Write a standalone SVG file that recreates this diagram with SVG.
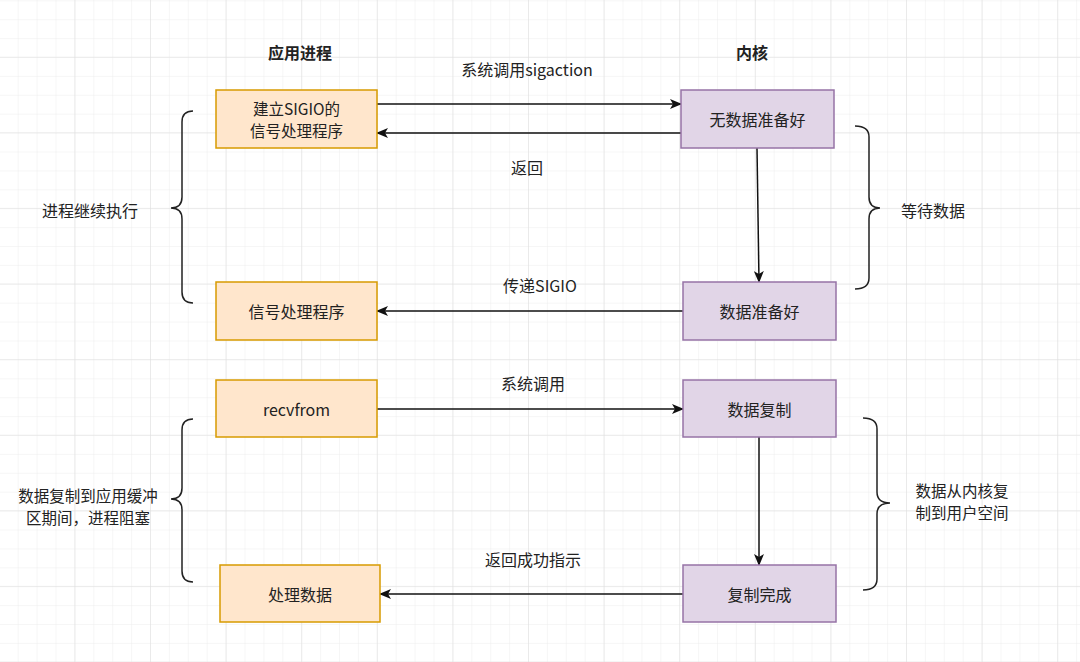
<svg xmlns="http://www.w3.org/2000/svg" width="1080" height="662" viewBox="0 0 1080 662">
<defs>
<pattern id="minor" patternUnits="userSpaceOnUse" x="17.7" y="0.3" width="18.9" height="18.9">
<path d="M0,0 H18.9 M0,0 V18.9" fill="none" stroke="#ededed" stroke-width="1"/>
</pattern>
<pattern id="major" patternUnits="userSpaceOnUse" x="74.4" y="56.7" width="75.6" height="75.6">
<path d="M0,0 H75.6 M0,0 V75.6" fill="none" stroke="#dedede" stroke-width="1"/>
</pattern>
<marker id="arr" viewBox="0 0 12 10" refX="11" refY="5" markerWidth="12" markerHeight="10" markerUnits="userSpaceOnUse" orient="auto">
<path d="M0,0 L12,5 L0,10 L3,5 Z" fill="#111"/>
</marker>
<style>
.t{font-family:"Noto Sans CJK SC","Liberation Sans",sans-serif;font-size:16px;fill:#222;text-anchor:middle;dominant-baseline:central}
.m{font-size:15.5px}
.h{font-weight:bold}
.app{fill:#ffe6cc;stroke:#d79b00;stroke-width:1.5}
.ker{fill:#e1d5e7;stroke:#9673a6;stroke-width:1.5}
.ln{fill:none;stroke:#111;stroke-width:1.5;marker-end:url(#arr)}
.br{fill:none;stroke:#222;stroke-width:1.5}
</style>
</defs>
<rect width="1080" height="662" fill="#fff"/>
<rect width="1080" height="662" fill="url(#minor)"/>
<rect width="1080" height="662" fill="url(#major)"/>

<g id="headers">
<text class="t h" x="300" y="52">应用进程</text>
<text class="t h" x="752" y="52">内核</text>
</g>

<g id="connectors">
<line class="ln" x1="377" y1="104" x2="681" y2="104"/>
<line class="ln" x1="681" y1="133" x2="377" y2="133"/>
<line class="ln" x1="757" y1="148" x2="759" y2="282"/>
<line class="ln" x1="683" y1="311" x2="377" y2="311"/>
<line class="ln" x1="377" y1="409" x2="683" y2="409"/>
<line class="ln" x1="759" y1="437" x2="759" y2="565"/>
<line class="ln" x1="683" y1="594" x2="380" y2="594"/>
<text class="t" x="527" y="69">系统调用sigaction</text>
<text class="t" x="527" y="167">返回</text>
<text class="t" x="540" y="285">传递SIGIO</text>
<text class="t" x="533" y="383">系统调用</text>
<text class="t" x="533" y="559">返回成功指示</text>
</g>

<g id="n1"><rect class="app" x="216" y="90" width="161" height="58"/><text class="t m" x="296.5" y="107.5">建立SIGIO的</text><text class="t m" x="296.5" y="129.5">信号处理程序</text></g>
<g id="n2"><rect class="ker" x="681" y="90" width="153" height="58"/><text class="t" x="757.5" y="119">无数据准备好</text></g>
<g id="n3"><rect class="ker" x="683" y="282" width="153" height="58"/><text class="t" x="759.5" y="311">数据准备好</text></g>
<g id="n4"><rect class="app" x="216" y="282" width="161" height="58"/><text class="t" x="296.5" y="311">信号处理程序</text></g>
<g id="n5"><rect class="app" x="216" y="380" width="161" height="57"/><text class="t" x="296.5" y="409">recvfrom</text></g>
<g id="n6"><rect class="ker" x="683" y="380" width="153" height="57"/><text class="t" x="759.5" y="409">数据复制</text></g>
<g id="n7"><rect class="ker" x="683" y="565" width="153" height="57"/><text class="t" x="759.5" y="594">复制完成</text></g>
<g id="n8"><rect class="app" x="220" y="565" width="160" height="57"/><text class="t" x="300" y="594">处理数据</text></g>

<g id="brace1">
<path class="br" d="M193,111 Q182,111 182,122 L182,197 Q182,208 171,208 Q182,208 182,219 L182,292 Q182,303 193,303"/>
<text class="t" x="90" y="210">进程继续执行</text>
</g>
<g id="brace2">
<path class="br" d="M855,126 Q869,126 869,137 L869,197 Q869,208 880,208 Q869,208 869,219 L869,278 Q869,289 855,289"/>
<text class="t" x="933" y="210">等待数据</text>
</g>
<g id="brace3">
<path class="br" d="M193,419 Q182,419 182,430 L182,488 Q182,499 171,499 Q182,499 182,510 L182,571 Q182,582 193,582"/>
<text class="t m" x="88" y="494.5">数据复制到应用缓冲</text>
<text class="t m" x="88" y="516.5">区期间，进程阻塞</text>
</g>
<g id="brace4">
<path class="br" d="M863,418 Q877,418 877,429 L877,492 Q877,503 890,503 Q877,503 877,514 L877,579 Q877,590 863,590"/>
<text class="t m" x="962" y="490">数据从内核复</text>
<text class="t m" x="962" y="512">制到用户空间</text>
</g>
</svg>
